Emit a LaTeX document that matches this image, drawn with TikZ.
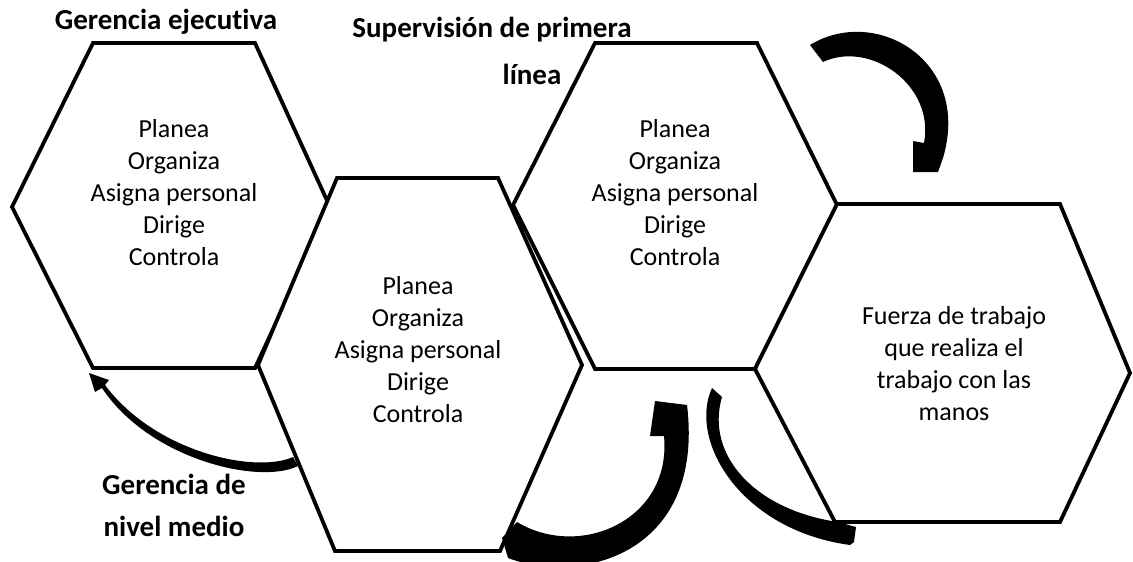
\documentclass[tikz,border=0pt]{standalone}
\usepackage{fontspec}
\setmainfont{Carlito}[Ligatures=NoCommon]
\usepackage{tikz}
\usetikzlibrary{positioning}

\tikzset{
    hexline/.style={draw=black, fill=white, line width=3.8pt, line join=miter},
    hextext/.style={align=center, font=\fontsize{26}{32}\selectfont, inner sep=0pt},
    titletext/.style={align=center, font=\fontsize{29}{42}\selectfont\bfseries, inner sep=0pt},
    bentarrow/.style={fill=black}
}

\begin{document}
\begin{tikzpicture}[x=1pt, y=-1pt]
\useasboundingbox (0,0) rectangle (1133,562);

% === hexagons ===
\draw[hexline] (93,43) -- (255,43) -- (330,207) -- (255,368) -- (93,368) -- (12,207) -- cycle;
\draw[hexline] (337,178) -- (498,178) -- (582,365) -- (500,551) -- (335,551) -- (258,365) -- cycle;
\draw[hexline] (595,43) -- (757,43) -- (837,205) -- (755,369) -- (595,369) -- (513,205) -- cycle;
\draw[hexline] (837,204) -- (1060,204) -- (1130,373) -- (1060,522) -- (835,522) -- (755,369) -- cycle;

% texts inside
\node[hextext] (ejec) at (174,193) {Planea\\Organiza\\Asigna personal\\Dirige\\Controla};
\node[hextext] (medio) at (418,350) {Planea\\Organiza\\Asigna personal\\Dirige\\Controla};
\node[hextext] (prim) at (675,193) {Planea\\Organiza\\Asigna personal\\Dirige\\Controla};
\node[hextext] (fuerza) at (954,364) {Fuerza de trabajo\\que realiza el\\trabajo con las\\manos};

% level titles
\node[titletext] (tejec) at (166,22) {Gerencia ejecutiva};
\node[titletext] (tsup) at (492,30) {Supervisión de primera};
\node[titletext] (tlin) at (532,74) {línea};
\node[titletext] (tmedio) at (174,505) {Gerencia de\\nivel medio};

% === curved arrows ===
% bottom left
\fill[bentarrow] (298,466) .. controls (260,485) and (150,460) .. (102,388)
    -- (95,392) -- (89,373) -- (109,380) -- (105,385)
    .. controls (155,452) and (255,474) .. (293,457) -- cycle;
% bottom middle
\fill[bentarrow] (508,558) .. controls (580,585) and (705,555) .. (687,405)
    -- (655,401) -- (650,436) -- (664,436)
    .. controls (672,520) and (580,560) .. (517,522) -- (502,538) -- cycle;
% bottom right
\fill[bentarrow] (712,388) .. controls (688,440) and (740,530) .. (850,545)
    -- (854,542) -- (856,527) -- (838,522)
    .. controls (755,510) and (705,455) .. (722,397) -- cycle;
% top right
\fill[bentarrow] (810,45) .. controls (875,5) and (972,60) .. (943,158)
    -- (938,172) -- (913,172) -- (913,141) -- (924,143)
    .. controls (935,85) and (870,40) .. (823,62) -- cycle;

\end{tikzpicture}
\end{document}
